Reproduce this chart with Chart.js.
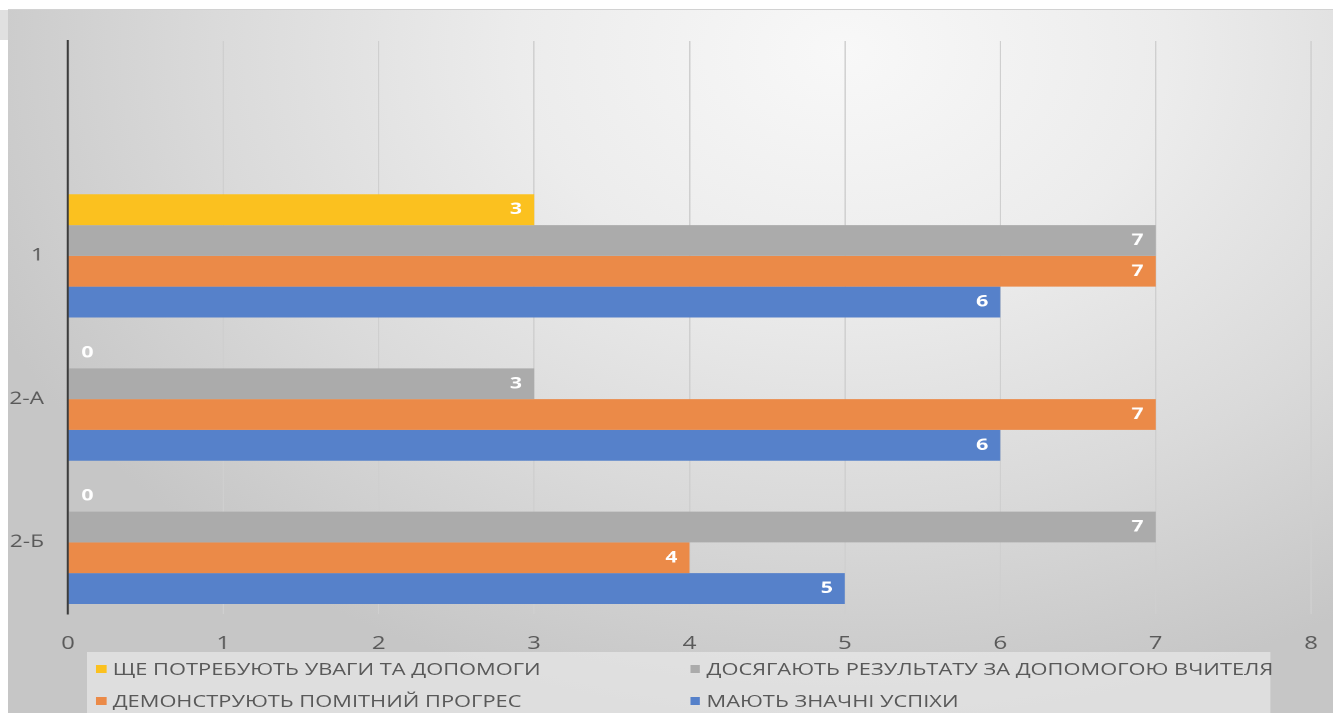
<!DOCTYPE html>
<html lang="uk">
<head>
  <meta charset="UTF-8">
  <title>Результати</title>
  <script src="https://cdn.jsdelivr.net/npm/chart.js"></script>
  <style>
    html, body { margin: 0; padding: 0; background: #fff; }
    #wrap { position: relative; width: 1333px; height: 713px; overflow: hidden; background: #fff; }
    #bg {
      position: absolute; left: 8px; top: 9px; right: 0; bottom: 0;
      border-top: 1px solid #d2d2d2;
      background: radial-gradient(ellipse 70% 95% at 63% 6%, #f8f8f8 0%, #ececec 35%, #dadada 68%, #c6c6c6 100%);
    }
    #corner { position: absolute; left: 0; top: 10px; width: 8px; height: 30px; background: #e0e0e0; }
    /* слайд 4:3 розтягнутий до 16:9 */
    #stage {
      position: absolute; left: 0; top: 0; width: 1000px; height: 713px;
      transform: scaleX(1.333); transform-origin: 0 0;
    }
    canvas { position: absolute; left: 0; top: 0; width: 1000px; height: 713px; }
    #legend {
      position: absolute; left: 65px; top: 652px; width: 888px; height: 70px;
      background: rgba(238, 238, 238, 0.6);
      font-family: "Open Sans", sans-serif; font-size: 16.4px; color: #595959;
    }
    .item { position: absolute; white-space: nowrap; line-height: 20px; }
    .item span { position: absolute; top: 6px; width: 7.5px; height: 8px; }
  </style>
</head>
<body>
  <div id="wrap">
    <div id="bg"></div>
    <div id="corner"></div>
    <div id="stage">
      <canvas id="chart" width="1000" height="713"></canvas>
      <div id="legend"></div>
    </div>
  </div>
  <script>
    // перша категорія порожня (як у вихідній таблиці)
    const categories = ['', '1', '2-А', '2-Б'];
    const seriesNames = [
      'ЩЕ ПОТРЕБУЮТЬ УВАГИ ТА ДОПОМОГИ',
      'ДОСЯГАЮТЬ РЕЗУЛЬТАТУ ЗА ДОПОМОГОЮ ВЧИТЕЛЯ',
      'ДЕМОНСТРУЮТЬ ПОМІТНИЙ ПРОГРЕС',
      'МАЮТЬ ЗНАЧНІ УСПІХИ'
    ];
    const needHelp = [null, 3, 0, 0];
    const withTeacher = [null, 7, 3, 7];
    const progress = [null, 7, 7, 4];
    const success = [null, 6, 6, 5];
    const colors = ['#fbc11f', '#ababab', '#eb8a48', '#5681ca'];
    const xTicks = [0, 1, 2, 3, 4, 5, 6, 7, 8];

    const allSeries = [needHelp, withTeacher, progress, success];

    const valueLabels = {
      id: 'valueLabels',
      afterDatasetsDraw(chart) {
        const ctx = chart.ctx;
        ctx.save();
        ctx.font = 'bold 16px "Open Sans"';
        ctx.fillStyle = '#ffffff';
        ctx.textBaseline = 'middle';
        chart.data.datasets.forEach((ds, i) => {
          chart.getDatasetMeta(i).data.forEach((bar, j) => {
            const v = ds.data[j];
            if (v === null) return;
            if (v > 0) {
              ctx.textAlign = 'right';
              ctx.fillText(v, bar.x - 9, bar.y);
            } else {
              ctx.textAlign = 'left';
              ctx.fillText(v, bar.base + 10, bar.y);
            }
          });
        });
        ctx.restore();
      }
    };

    const canvas = document.getElementById('chart');
    new Chart(canvas.getContext('2d'), {
      type: 'bar',
      data: {
        labels: categories,
        datasets: allSeries.map((d, i) => ({
          label: seriesNames[i],
          data: d,
          backgroundColor: colors[i],
          borderWidth: 0,
          categoryPercentage: 0.86,
          barPercentage: 1.0
        }))
      },
      options: {
        indexAxis: 'y',
        responsive: false,
        animation: false,
        devicePixelRatio: 2,
        layout: { padding: { top: 41, right: 16.5, left: 0, bottom: 0 } },
        plugins: { legend: { display: false }, tooltip: { enabled: false } },
        scales: {
          x: {
            min: 0,
            max: 8,
            afterBuildTicks: (s) => { s.ticks = xTicks.map(v => ({ value: v })); },
            afterFit: (s) => { s.height = 99; s.paddingLeft = 0; s.paddingRight = 0; },
            ticks: { color: '#595959', font: { family: 'Open Sans', size: 18 }, padding: 19 },
            grid: { color: '#cfcfcf', lineWidth: 1, drawTicks: false },
            border: { display: false }
          },
          y: {
            afterFit: (s) => { s.width = 51; },
            ticks: { color: '#595959', font: { family: 'Open Sans', size: 17 }, padding: 18 },
            grid: { display: false, drawTicks: false },
            border: { display: true, color: '#3c3c3c', width: 1.6 }
          }
        }
      },
      plugins: [valueLabels]
    });

    // легенда у два стовпці
    const legend = document.getElementById('legend');
    const spots = [[19.5, 7], [465, 7], [19.5, 39], [465, 39]];
    seriesNames.forEach((name, i) => {
      const el = document.createElement('div');
      el.className = 'item';
      el.style.left = spots[i][0] + 'px';
      el.style.top = spots[i][1] + 'px';
      el.innerHTML = '<span style="left:-12.5px;background:' + colors[i] + '"></span>' + name;
      legend.appendChild(el);
    });
  </script>
</body>
</html>
